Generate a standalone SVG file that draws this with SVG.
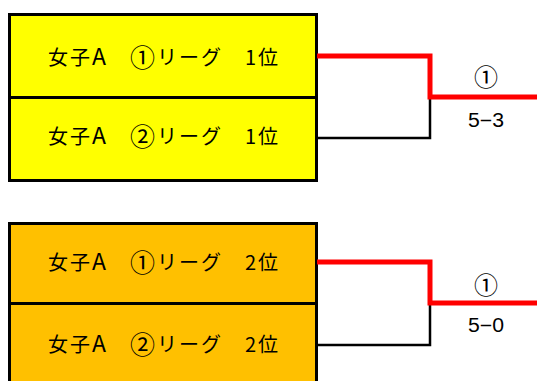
<svg xmlns="http://www.w3.org/2000/svg" width="537" height="381" viewBox="0 0 537 381">
<style>
.box{stroke:#000;stroke-width:3}
.t{font-family:"Noto Sans CJK JP","Liberation Sans",sans-serif;font-size:20px;fill:#000;text-anchor:middle}
.c{font-size:25px}
.a{font-size:23px}
.l{font-family:"Liberation Sans","Noto Sans CJK JP",sans-serif;font-size:19.5px;fill:#000;text-anchor:middle}
.lc{font-family:"Noto Sans CJK JP",sans-serif;font-size:24px;fill:#000;text-anchor:middle}
.win{fill:none;stroke:#FF0000;stroke-width:5}
.lose{fill:none;stroke:#000;stroke-width:2.5}
</style>
<rect width="537" height="381" fill="#fff"/>
<g id="n1"><rect class="box" x="9.5" y="14.5" width="307" height="83" fill="#FFFF00"/><text class="t" x="163" y="65" textLength="230" lengthAdjust="spacing">女子<tspan class="a">A</tspan>　<tspan class="c" dy="2">①</tspan><tspan dy="-2">リーグ　1位</tspan></text></g>
<g id="n2"><rect class="box" x="9.5" y="97.5" width="307" height="83" fill="#FFFF00"/><text class="t" x="163" y="144" textLength="230" lengthAdjust="spacing">女子<tspan class="a">A</tspan>　<tspan class="c" dy="2">②</tspan><tspan dy="-2">リーグ　1位</tspan></text></g>
<g id="n3"><rect class="box" x="9.5" y="223.5" width="307" height="80" fill="#FFC000"/><text class="t" x="163" y="270" textLength="230" lengthAdjust="spacing">女子<tspan class="a">A</tspan>　<tspan class="c" dy="2">①</tspan><tspan dy="-2">リーグ　2位</tspan></text></g>
<g id="n4"><rect class="box" x="9.5" y="303.5" width="307" height="90" fill="#FFC000"/><text class="t" x="163" y="352" textLength="230" lengthAdjust="spacing">女子<tspan class="a">A</tspan>　<tspan class="c" dy="2">②</tspan><tspan dy="-2">リーグ　2位</tspan></text></g>
<g id="connectors">
<polyline class="lose" points="317,138 430,138 430,97"/>
<polyline class="win" points="317,56 430,56 430,97 537,97"/>
<polyline class="lose" points="317,345 430,345 430,303"/>
<polyline class="win" points="317,262 430,262 430,303 537,303"/>
</g>
<g id="labels">
<text class="lc" x="486" y="86">①</text>
<text class="l" x="486" y="127" textLength="36" lengthAdjust="spacingAndGlyphs">5−3</text>
<text class="lc" x="486" y="294">①</text>
<text class="l" x="486" y="332" textLength="36" lengthAdjust="spacingAndGlyphs">5−0</text>
</g>
</svg>
